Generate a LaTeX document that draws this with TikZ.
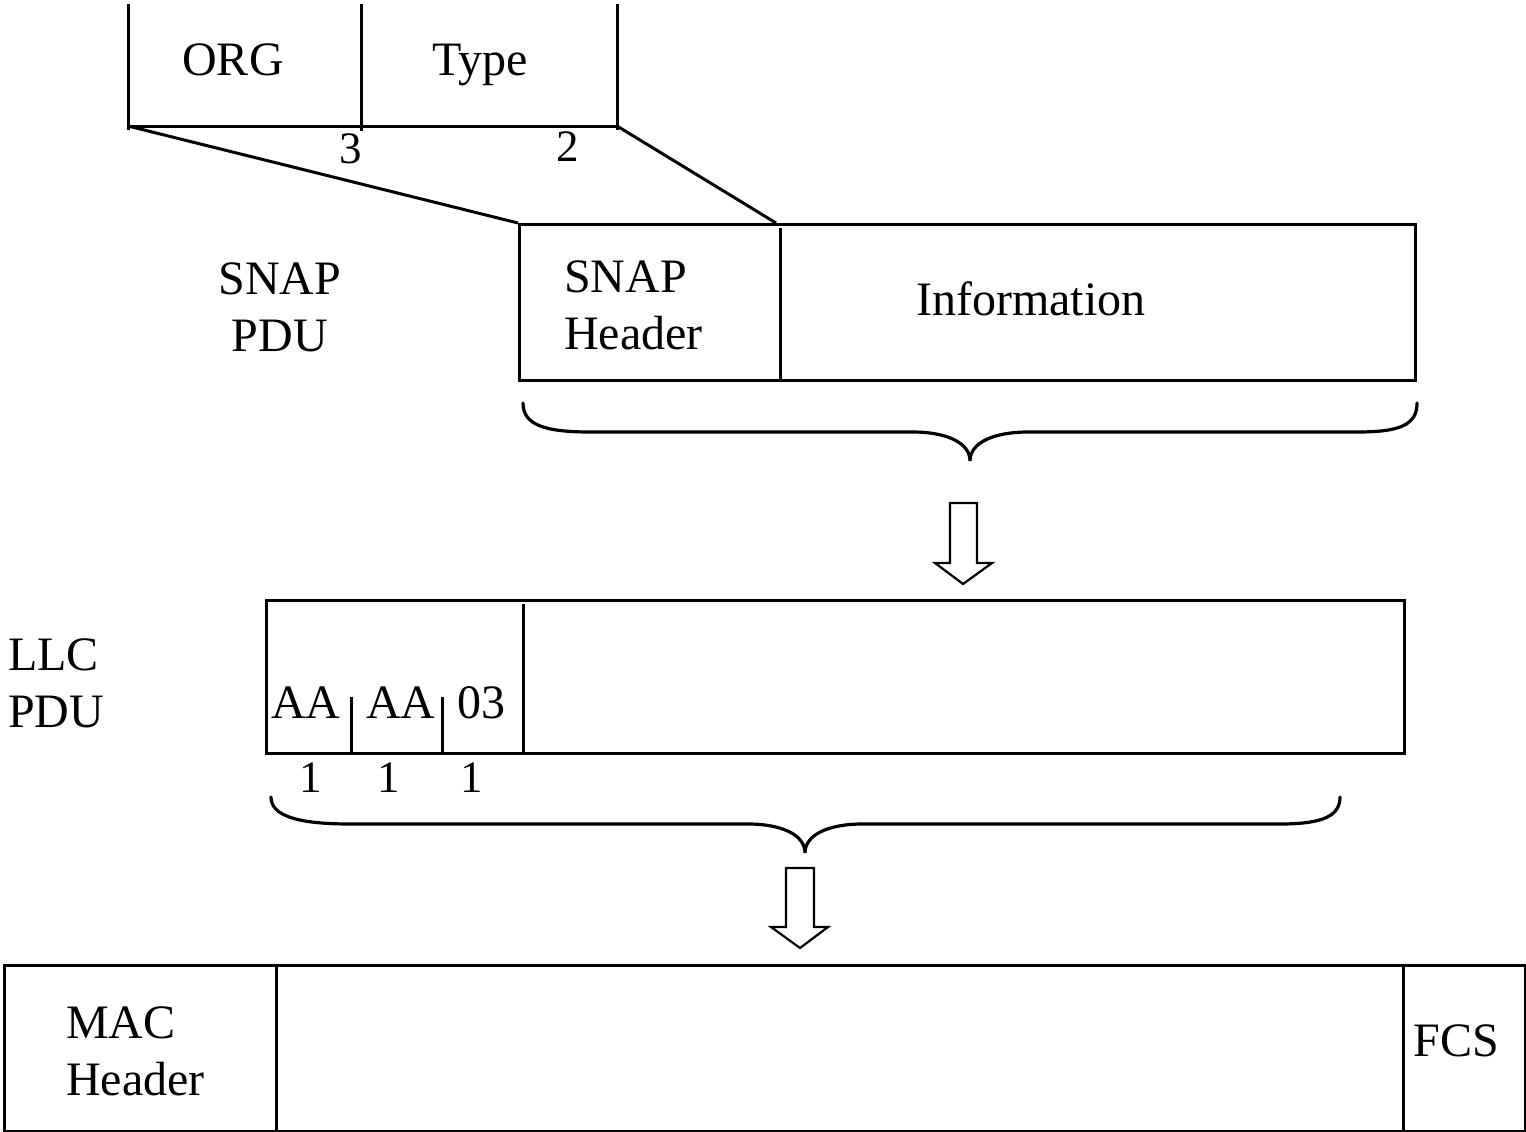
\documentclass[tikz,border=0pt]{standalone}
\usepackage{fontspec}
\setmainfont{Liberation Serif}
\begin{document}
\begin{tikzpicture}[x=1pt,y=-1pt,
  ln/.style={line width=3pt},
  box/.style={draw, line width=3pt, inner sep=0pt, anchor=north west},
  lbl/.style={font=\fontsize{48}{57}\selectfont, inner sep=0pt},
  num/.style={font=\fontsize{45}{50}\selectfont, inner sep=0pt},
  blockarrow/.style={draw, line width=2.2pt, line join=miter, fill=white},
  bracepath/.style={line width=3.2pt, line cap=round}]
\useasboundingbox (0,0) rectangle (1526,1132);

% ---- top ORG / Type field ----
\coordinate (orgL) at (128,126);
\coordinate (orgM) at (361,126);
\coordinate (typeR) at (617,126);
\draw[ln] (128,4) -- (128,130);
\draw[ln] (361,4) -- (361,131);
\draw[ln] (617,4) -- (617,130);
\draw[ln] (orgL) -- (typeR);
\node[lbl, anchor=base] (org) at (233,76) {ORG};
\node[lbl, anchor=base] (type) at (480,76) {Type};
\node[num, anchor=base east] (n3) at (362,163) {3};
\node[num, anchor=base] (n2) at (568,161) {2};

% ---- SNAP PDU ----
\node[box, minimum width=896pt, minimum height=156pt] (snap) at (518,223) {};
\coordinate (snapdiv) at (776,223);
\draw[ln] (780,228) -- (780,379);
\draw[ln] (orgL) -- (snap.north west);
\draw[ln] (typeR) -- (snapdiv);
\node[lbl, anchor=north, align=center] (snaplbl) at (280,263) {SNAP\\PDU};
\node[lbl, anchor=north west, align=left] (snaphdr) at (564,261) {SNAP\\Header};
\node[lbl, anchor=base] (info) at (1031,315) {Information};

% brace 1
\draw[bracepath] (523,403) .. controls (523,425) and (545,432) .. (590,432)
  -- (913,432) .. controls (945,432) and (970,442) .. (970,461)
  .. controls (970,442) and (995,432) .. (1028,432)
  -- (1357,432) .. controls (1400,432) and (1417,425) .. (1417,403);

% arrow 1
\draw[blockarrow] (950,503) -- (977,503) -- (977,563) -- (992,563) -- (963,584)
  -- (935,563) -- (950,563) -- cycle;

% ---- LLC PDU ----
\node[box, minimum width=1138pt, minimum height=153pt] (llc) at (265,599) {};
\draw[ln] (523,604) -- (523,755);
\draw[ln] (351,697) -- (351,755);
\draw[ln] (442,697) -- (442,755);
\node[lbl, anchor=north west, align=left] (llclbl) at (8,639) {LLC\\PDU};
\node[lbl, anchor=base] (aa1) at (306,718) {AA};
\node[lbl, anchor=base] (aa2) at (401,718) {AA};
\node[lbl, anchor=base] (c03) at (481,718) {03};
\node[num, anchor=base] (one1) at (311,792) {1};
\node[num, anchor=base] (one2) at (389,792) {1};
\node[num, anchor=base] (one3) at (472,792) {1};

% brace 2
\draw[bracepath] (271,797) .. controls (271,815) and (295,824) .. (350,824)
  -- (748,824) .. controls (780,824) and (805,834) .. (805,853)
  .. controls (805,834) and (830,824) .. (862,824)
  -- (1280,824) .. controls (1325,824) and (1340,815) .. (1340,797);

% arrow 2
\draw[blockarrow] (786,868) -- (814,868) -- (814,927) -- (828,927) -- (800,948)
  -- (771,927) -- (786,927) -- cycle;

% ---- MAC frame ----
\node[box, minimum width=1521pt, minimum height=166pt] (mac) at (3,964) {};
\draw[ln] (276,967) -- (276,1130);
\draw[ln] (1403,967) -- (1403,1130);
\node[lbl, anchor=north west, align=left] (machdr) at (66,1007) {MAC\\Header};
\node[lbl, anchor=base] (fcs) at (1456,1056) {FCS};
\end{tikzpicture}
\end{document}
